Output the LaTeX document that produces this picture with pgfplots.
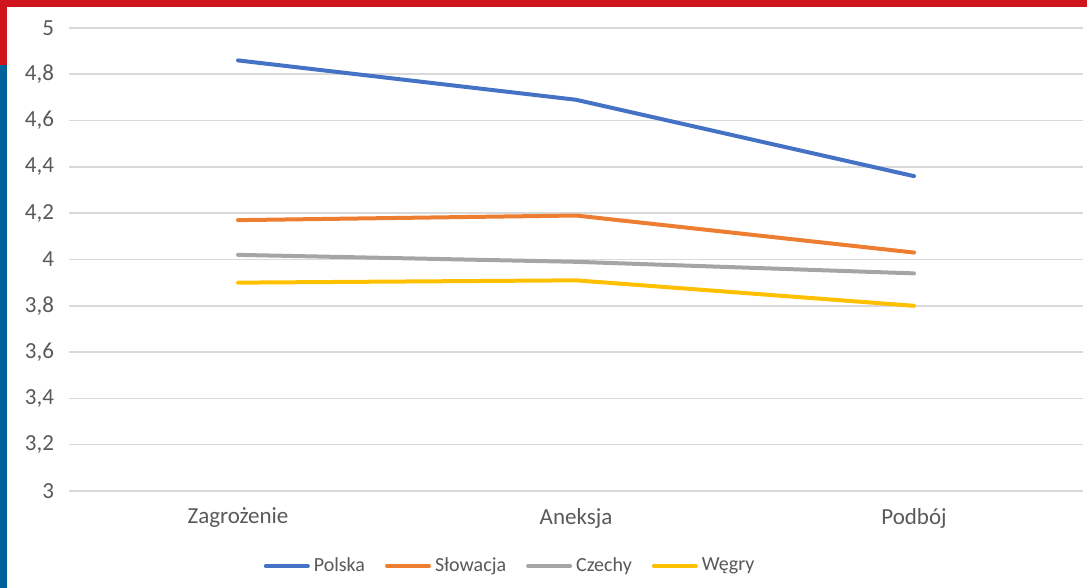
\documentclass[border=0pt]{standalone}
\usepackage{fontspec}
\setmainfont{Carlito}
\usepackage{pgfplots}
\pgfplotsset{compat=1.18}
\definecolor{PL}{HTML}{4472C4}
\definecolor{SK}{HTML}{ED7D31}
\definecolor{CZ}{HTML}{A5A5A5}
\definecolor{HU}{HTML}{FFC000}
\definecolor{Grid}{HTML}{D9D9D9}
\definecolor{Txt}{HTML}{595959}
\definecolor{BarRed}{HTML}{D0141E}
\definecolor{BarBlue}{HTML}{00609C}
\begin{document}
\begin{tikzpicture}
\useasboundingbox (-34.5pt,-48.5pt) rectangle (509pt,245.5pt);
\begin{axis}[at={(0,0)},anchor=south west,scale only axis,
  width=507pt,height=231.5pt,
  xmin=-0.5,xmax=2.5,ymin=3,ymax=5,
  xtick={0,1,2},xticklabels={Zagrożenie,Aneksja,Podbój},
  ytick={3,3.2,3.4,3.6,3.8,4,4.2,4.4,4.6,4.8,5},
  /pgf/number format/use comma,
  /pgf/number format/assume math mode=true,
  axis line style={draw=none},major tick length=0pt,
  ymajorgrids,grid style={Grid,line width=0.8pt},
  ticklabel style={font=\fontsize{11.5}{13}\selectfont,text=Txt},
  yticklabel style={xshift=-4pt},
  xticklabel style={yshift=-5pt},
  legend style={at={(0.436,-0.162)},anchor=center,draw=none,
    legend columns=4,font=\fontsize{10}{12}\selectfont,text=Txt,
    /tikz/every even column/.append style={column sep=8pt},
    inner sep=0pt},
  legend image code/.code={\draw[#1,line cap=round] (0pt,0pt) -- (21pt,0pt);},
  every axis plot/.append style={line width=2pt,line join=round,line cap=round},
  clip=false]
\addplot[PL] coordinates {(0,4.86) (1,4.69) (2,4.36)};
\addlegendentry{Polska}
\addplot[SK] coordinates {(0,4.17) (1,4.19) (2,4.03)};
\addlegendentry{Słowacja}
\addplot[CZ] coordinates {(0,4.02) (1,3.99) (2,3.94)};
\addlegendentry{Czechy}
\addplot[HU] coordinates {(0,3.90) (1,3.91) (2,3.80)};
\addlegendentry{Węgry}
\end{axis}
\fill[BarRed] (-34.5pt,242pt) rectangle (509pt,245.5pt);
\fill[BarRed] (-34.5pt,213pt) rectangle (-31pt,245.5pt);
\fill[BarBlue] (-34.5pt,-48.5pt) rectangle (-31pt,213pt);
\end{tikzpicture}
\end{document}
